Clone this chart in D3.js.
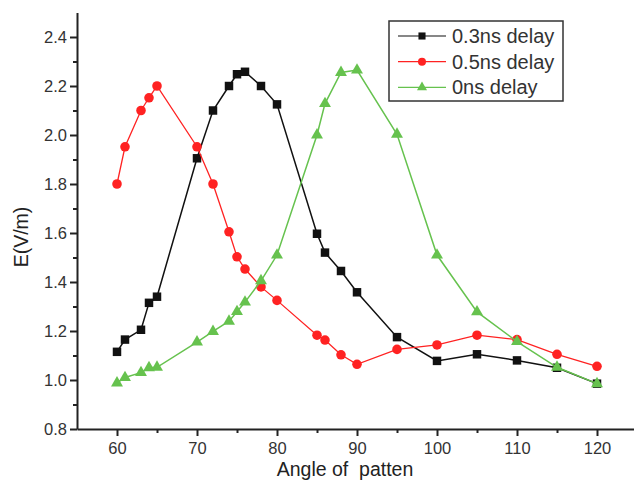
<!DOCTYPE html>
<html>
<head>
<meta charset="utf-8">
<script src="https://cdn.jsdelivr.net/npm/d3@7"></script>
<style>
    body { margin: 0; background: #fff; }
    svg { display: block; font-family: 'Liberation Sans', Arial, sans-serif; }
    .tick text { font-size: 16.5px; fill: #333; }
    .axis-label { font-size: 19.5px; fill: #222; }
    .legend-text { font-size: 20px; fill: #333; }
</style>
</head>
<body>
<svg width="634" height="481"></svg>
<script>
const angles = [60, 61, 63, 64, 65, 70, 72, 74, 75, 76, 78, 80, 85, 86, 88, 90, 95, 100, 105, 110, 115, 120];
const delay03 = [1.115, 1.165, 1.205, 1.315, 1.34, 1.905, 2.10, 2.20, 2.248, 2.258, 2.20, 2.125, 1.597, 1.52, 1.445, 1.358, 1.175, 1.078, 1.105, 1.08, 1.05, 0.985];
const delay05 = [1.80, 1.952, 2.10, 2.152, 2.20, 1.952, 1.80, 1.605, 1.503, 1.453, 1.38, 1.325, 1.183, 1.163, 1.103, 1.064, 1.125, 1.143, 1.183, 1.165, 1.105, 1.056];
const delay0 = [0.988, 1.01, 1.03, 1.05, 1.052, 1.155, 1.198, 1.24, 1.279, 1.318, 1.405, 1.51, 2.0, 2.128, 2.255, 2.265, 2.003, 1.51, 1.278, 1.157, 1.052, 0.985];
const seriesNames = ['0.3ns delay', '0.5ns delay', '0ns delay'];
const xTicks = [60, 70, 80, 90, 100, 110, 120];
const yTicks = [0.8, 1.0, 1.2, 1.4, 1.6, 1.8, 2.0, 2.2, 2.4];

const svg = d3.select('svg');

const series = [
    { name: seriesNames[0], values: delay03, color: '#111', symbol: d3.symbolSquare, size: 72, width: 1.5 },
    { name: seriesNames[1], values: delay05, color: '#ff2222', symbol: d3.symbolCircle, size: 72, width: 1.3 },
    { name: seriesNames[2], values: delay0, color: '#66c24e', symbol: d3.symbolTriangle, size: 62, width: 1.5 }
];

const xScale = d3.scaleLinear().domain([55, 125]).range([77, 637]);
const yScale = d3.scaleLinear().domain([0.8, 2.5]).range([429, 12.5]);

// minor ticks first, so the major ones sit on top
svg.append('g')
    .attr('transform', `translate(0, ${yScale(0.8)})`)
    .call(d3.axisBottom(xScale).tickValues(d3.range(65, 125, 10)).tickSize(4).tickFormat(''))
    .call(g => g.select('.domain').remove());

svg.append('g')
    .attr('transform', `translate(${xScale(55)}, 0)`)
    .call(d3.axisLeft(yScale).tickValues(d3.range(0.9, 2.45, 0.2)).tickSize(4).tickFormat(''))
    .call(g => g.select('.domain').remove());

const xAxisG = svg.append('g')
    .attr('transform', `translate(0, ${yScale(0.8)})`)
    .call(d3.axisBottom(xScale).tickValues(xTicks).tickSize(7).tickSizeOuter(0).tickPadding(6));

const yAxisG = svg.append('g')
    .attr('transform', `translate(${xScale(55)}, 0)`)
    .call(d3.axisLeft(yScale).tickValues(yTicks).tickSize(7).tickSizeOuter(0).tickPadding(3).tickFormat(d3.format('.1f')));

svg.selectAll('.domain').attr('stroke', '#222').attr('stroke-width', 2);
svg.selectAll('.tick line').attr('stroke', '#222').attr('stroke-width', 2);
svg.selectAll('.tick text').attr('fill', '#333');

xAxisG.append('text')
    .attr('class', 'axis-label')
    .attr('x', 345)
    .attr('y', 47)
    .attr('text-anchor', 'middle')
    .attr('fill', '#222')
    .text('Angle of\u00a0 patten');

svg.append('text')
    .attr('class', 'axis-label')
    .attr('transform', 'translate(28, 237) rotate(-90)')
    .attr('text-anchor', 'middle')
    .text('E(V/m)');

// series: lines then markers, in legend order
series.forEach((s) => {
    const pts = angles.map((a, i) => [a, s.values[i]]);
    svg.append('path')
        .datum(pts)
        .attr('fill', 'none')
        .attr('stroke', s.color)
        .attr('stroke-width', s.width)
        .attr('d', d3.line().x(d => xScale(d[0])).y(d => yScale(d[1])));
    svg.append('g')
        .selectAll('path')
        .data(pts)
        .enter()
        .append('path')
        .attr('transform', d => `translate(${xScale(d[0])}, ${yScale(d[1])})`)
        .attr('d', d3.symbol().type(s.symbol).size(s.size))
        .attr('fill', s.color);
});

// legend
const legend = svg.append('g').attr('transform', 'translate(389, 21)');
legend.append('rect')
    .attr('width', 174)
    .attr('height', 80)
    .attr('fill', '#fff')
    .attr('stroke', '#333')
    .attr('stroke-width', 1.5);

series.forEach((s, i) => {
    const row = legend.append('g').attr('transform', `translate(0, ${15 + i * 25.7})`);
    row.append('line')
        .attr('x1', 9).attr('x2', 57)
        .attr('stroke', s.color)
        .attr('stroke-width', 1.2);
    row.append('path')
        .attr('transform', 'translate(33, 0)')
        .attr('d', d3.symbol().type(s.symbol).size(s.size * 0.7))
        .attr('fill', s.color);
    row.append('text')
        .attr('class', 'legend-text')
        .attr('x', 63)
        .attr('dy', '0.35em')
        .text(s.name);
});
</script>
</body>
</html>
